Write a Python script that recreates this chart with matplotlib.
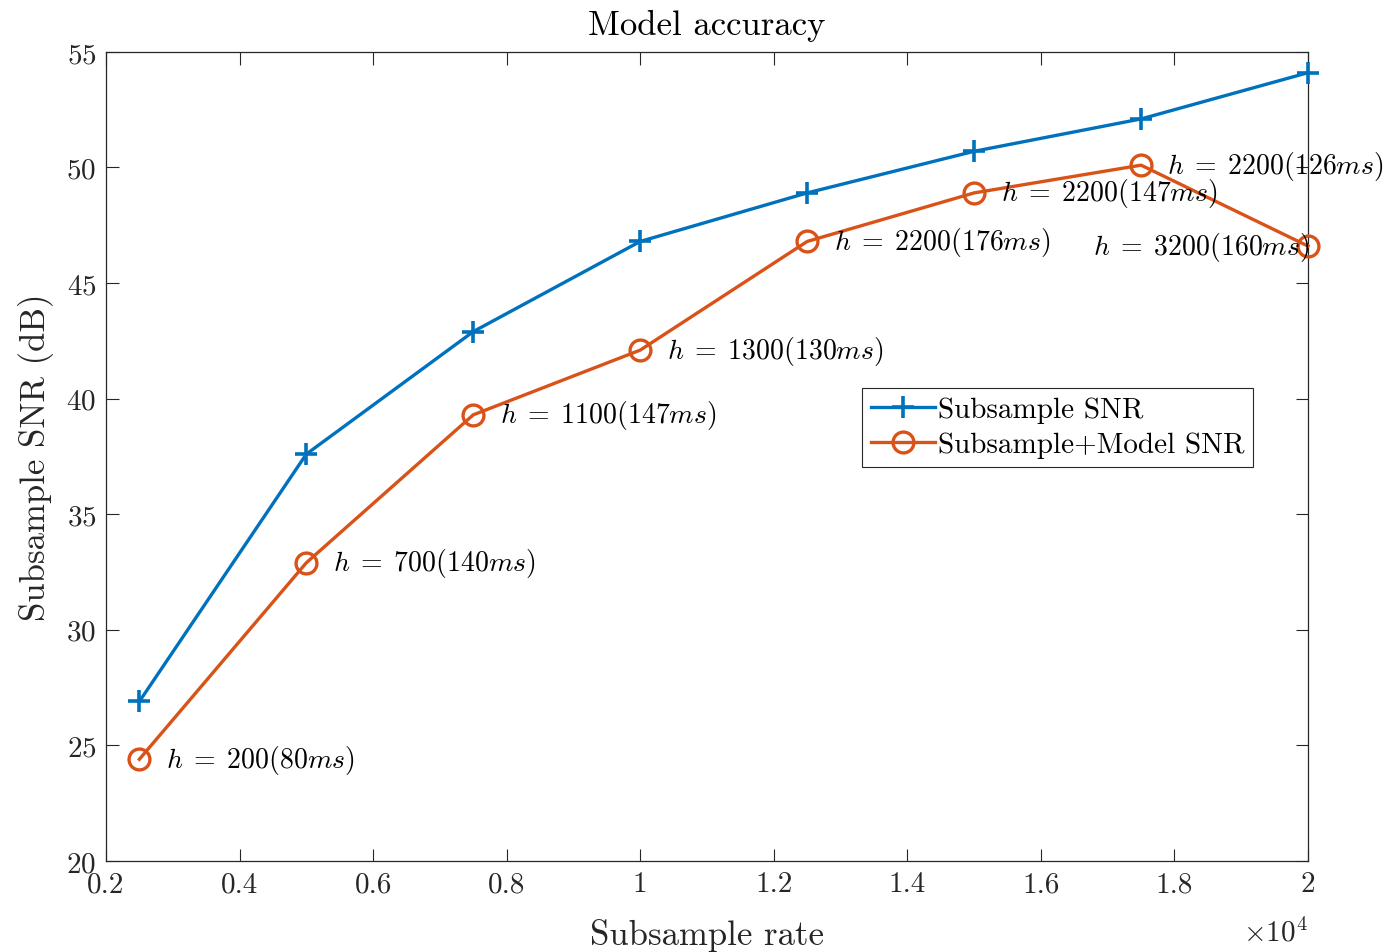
import matplotlib
matplotlib.use("Agg")
import matplotlib.pyplot as plt

plt.rcParams["font.family"] = "serif"
plt.rcParams["font.serif"] = ["cmr10"]
plt.rcParams["mathtext.fontset"] = "cm"
plt.rcParams["axes.formatter.use_mathtext"] = True

rates = [2500, 5000, 7500, 10000, 12500, 15000, 17500, 20000]
snr_subsample = [26.9, 37.6, 42.9, 46.8, 48.9, 50.7, 52.1, 54.1]
snr_model = [24.4, 32.9, 39.3, 42.1, 46.8, 48.9, 50.1, 46.6]
labels = [
    r"$h\;=\;200(80ms)$",
    r"$h\;=\;700(140ms)$",
    r"$h\;=\;1100(147ms)$",
    r"$h\;=\;1300(130ms)$",
    r"$h\;=\;2200(176ms)$",
    r"$h\;=\;2200(147ms)$",
    r"$h\;=\;2200(126ms)$",
    r"$h\;=\;3200(160ms)$",
]
xticks = [2000, 4000, 6000, 8000, 10000, 12000, 14000, 16000, 18000, 20000]
xtick_labels = ["0.2", "0.4", "0.6", "0.8", "1", "1.2", "1.4", "1.6", "1.8", "2"]
yticks = [20, 25, 30, 35, 40, 45, 50, 55]

blue = "#0072BD"
orange = "#D95319"
axis_color = "#262626"

fig = plt.figure(figsize=(13.89, 9.53), dpi=100)
ax = fig.add_axes([0.0763, 0.0955, 0.8654, 0.849])

ax.plot(rates, snr_subsample, color=blue, lw=2.4, marker="+", ms=16, mew=2.6,
        label="Subsample SNR", clip_on=False, zorder=3)
ax.plot(rates, snr_model, color=orange, lw=2.4, marker="o", ms=15, mew=2.4,
        mfc="none", label="Subsample+Model SNR", clip_on=False, zorder=3)

for i, (x, y, txt) in enumerate(zip(rates, snr_model, labels)):
    if i == len(rates) - 1:
        ax.annotate(txt, (x, y), xytext=(1, 0), textcoords="offset points",
                    ha="right", va="center", fontsize=20, color="black")
    else:
        ax.annotate(txt, (x, y), xytext=(19, 0), textcoords="offset points",
                    ha="left", va="center", fontsize=20, color="black")

ax.set_xlim(2000, 20000)
ax.set_ylim(20, 55)
ax.set_xticks(xticks)
ax.set_xticklabels(xtick_labels)
ax.set_yticks(yticks)

ax.tick_params(direction="in", top=True, right=True, length=9, width=0.8,
               colors=axis_color, labelsize=21, labelcolor=axis_color, pad=7)
for sp in ax.spines.values():
    sp.set_color(axis_color)
    sp.set_linewidth(0.9)

ax.text(1.0, -0.088, r"$\times10^4$", transform=ax.transAxes, ha="right",
        va="center", fontsize=21, color=axis_color)

ax.set_title("Model accuracy", fontsize=25, color="black", pad=13)
ax.set_xlabel("Subsample rate", fontsize=25, color=axis_color, labelpad=15)
ax.set_ylabel("Subsample SNR (dB)", fontsize=25, color=axis_color, labelpad=9)

leg = ax.legend(loc="upper left", bbox_to_anchor=(0.629, 0.585), fontsize=21,
                frameon=True, fancybox=False, handlelength=2.2,
                borderpad=0.3, labelspacing=0.3, handletextpad=0.1,
                borderaxespad=0.0)
leg.get_frame().set_edgecolor(axis_color)
leg.get_frame().set_linewidth(0.8)
leg.get_frame().set_alpha(1.0)
leg.set_zorder(5)

fig.savefig("out.png", dpi=100, facecolor="white")
